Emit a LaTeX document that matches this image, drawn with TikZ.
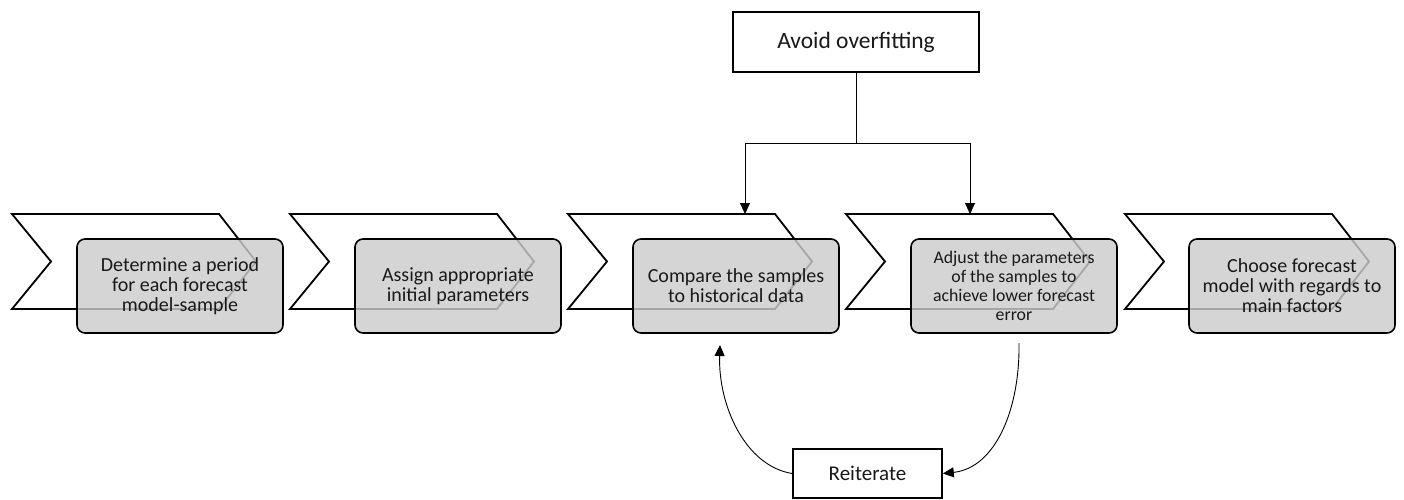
\documentclass[tikz,border=0pt]{standalone}
\usepackage{fontspec}
\setmainfont{Carlito}
\usetikzlibrary{arrows.meta}
\definecolor{boxgray}{RGB}{204,204,204}
\definecolor{txt}{RGB}{25,25,25}
\tikzset{
  chev/.style={draw=black, line width=1.8pt, line join=miter},
  stepbox/.style={draw=black, line width=1.6pt, rounded corners=8pt, fill=boxgray,
    fill opacity=0.82, text opacity=1, text=txt, minimum width=206pt, minimum height=94pt,
    align=center, inner sep=2pt, font=\fontsize{20}{20}\selectfont},
  plainbox/.style={draw=black, line width=1.6pt, fill=white, text=txt, align=center, inner sep=0pt},
  conn/.style={draw=black, line width=0.9pt},
  tip/.style={-{Triangle[width=10pt,length=11pt]}}
}
\begin{document}
\begin{tikzpicture}[x=1pt,y=-1pt]
\useasboundingbox (0,0) rectangle (1404,500);
% chevrons
\foreach \L in {12,290,568,846,1125}{
  \draw[chev] (\L,214) -- (\L+207,214) -- (\L+244,261.5) -- (\L+207,309) -- (\L,309) -- (\L+39,261.5) -- cycle;
}
\coordinate (c3) at (745,214);
\coordinate (c4) at (970,214);
% step boxes
\node[stepbox] (b1) at (180,286) {Determine a period\\for each forecast\\model-sample};
\node[stepbox] (b2) at (458,286) {Assign appropriate\\initial parameters};
\node[stepbox] (b3) at (736,286) {Compare the samples\\to historical data};
\node[stepbox, font=\fontsize{17.8}{19}\selectfont] (b4) at (1014,286) {Adjust the parameters\\of the samples to\\achieve lower forecast\\error};
\node[stepbox] (b5) at (1292,286) {Choose forecast\\model with regards to\\main factors};
% top box
\node[plainbox, minimum width=246pt, minimum height=60pt, font=\fontsize{23.5}{26}\selectfont] (avoid) at (856,42) {Avoid overfitting};
\coordinate (j) at (856,143);
\draw[conn] (avoid.south) -- (j);
\draw[conn,tip] (j) -| (c3);
\draw[conn,tip] (j) -| (c4);
% reiterate
\node[plainbox, minimum width=149pt, minimum height=49pt, font=\fontsize{21}{24}\selectfont] (reit) at (867.5,473.5) {Reiterate};
\coordinate (t3) at (720,345);
\coordinate (s4) at (1019,343);
\draw[conn,tip] (reit.west) .. controls (745,466) and (718,405) .. (t3);
\draw[conn,tip] (s4) .. controls (1020,410) and (995,468) .. (reit.east);
\end{tikzpicture}
\end{document}
